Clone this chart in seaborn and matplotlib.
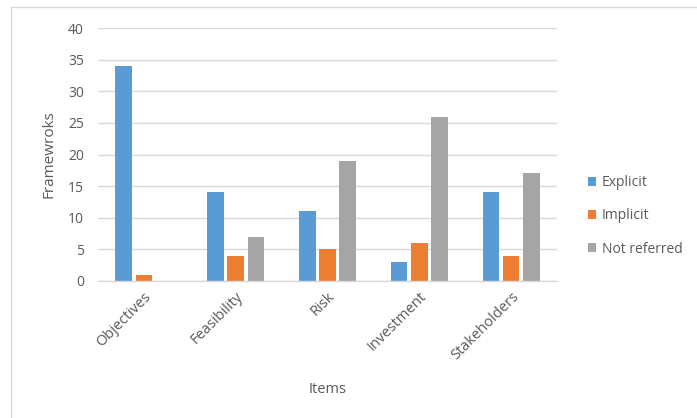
import matplotlib
matplotlib.use("Agg")
import matplotlib.pyplot as plt
import seaborn as sns
import pandas as pd
from matplotlib.patches import Rectangle

# Data
items = ["Objectives", "Feasibility", "Risk", "Investment", "Stakeholders"]
explicit = [34, 14, 11, 3, 14]
implicit = [1, 4, 5, 6, 4]
not_referred = [0, 7, 19, 26, 17]
series_names = ["Explicit", "Implicit", "Not referred"]
colors = ["#5B9BD5", "#ED7D31", "#A5A5A5"]

df = pd.DataFrame({
    "Items": items * 3,
    "Frameworks": explicit + implicit + not_referred,
    "Type": [s for s in series_names for _ in items],
})

sns.set_theme(style="white")
plt.rcParams["font.family"] = ["Open Sans", "DejaVu Sans"]
text_color = "#595959"

fig = plt.figure(figsize=(6.97, 4.18), dpi=100)
ax = fig.add_axes([98 / 697, 1 - 281 / 418, (557 - 98) / 697, (281 - 28) / 418])

sns.barplot(data=df, x="Items", y="Frameworks", hue="Type",
            palette=colors, saturation=1, width=0.66, gap=0.18, ax=ax,
            linewidth=0)

ax.set_ylim(0, 40)
ax.set_yticks(range(0, 41, 5))
ax.set_xlim(-0.5, len(items) - 0.5)
ax.yaxis.grid(True, color="#D9D9D9", linewidth=1)
ax.set_axisbelow(True)
for side in ["top", "right", "left"]:
    ax.spines[side].set_visible(False)
ax.spines["bottom"].set_color("#D9D9D9")
ax.spines["bottom"].set_linewidth(1)
ax.tick_params(axis="both", length=0, colors=text_color, labelsize=10)
ax.tick_params(axis="y", pad=10)
ax.tick_params(axis="x", pad=6, labelsize=10.5)
plt.setp(ax.get_xticklabels(), rotation=45, ha="right", rotation_mode="anchor")

ax.set_ylabel("Framewroks", color=text_color, fontsize=11, labelpad=8)
ax.set_xlabel("Items", color=text_color, fontsize=10.5, labelpad=14)

leg = ax.legend(loc="center left", bbox_to_anchor=(1.04, 0.257), frameon=False,
                fontsize=10, handlelength=0.6, handleheight=0.6,
                handletextpad=0.4, labelspacing=1.3)
for t in leg.get_texts():
    t.set_color(text_color)

# Outer chart frame
fig.patches.append(Rectangle((11 / 697, -0.1), 1.2, 1 - 7 / 418 + 0.1,
                             transform=fig.transFigure, fill=False,
                             edgecolor="#D9D9D9", linewidth=1))

fig.savefig("out.png", dpi=100)
